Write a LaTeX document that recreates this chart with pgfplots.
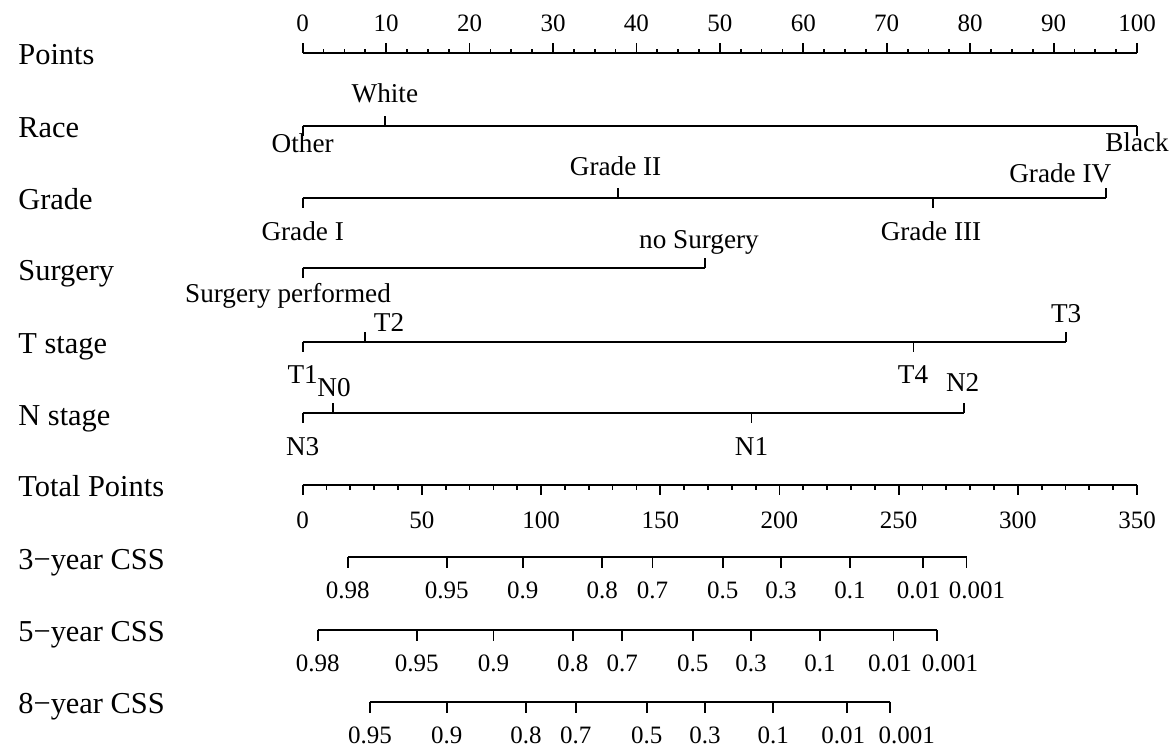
\documentclass[border=0pt]{standalone}
\usepackage{fontspec}
\setmainfont{Liberation Serif}
\usepackage{pgfplots}
\usepackage{pgfplotstable}
\pgfplotsset{compat=1.18}

\newcommand{\rowfont}{\fontsize{15.2}{17}\selectfont}
\newcommand{\catfont}{\fontsize{13.6}{15}\selectfont}
\newcommand{\tickfont}{\fontsize{12.5}{14}\selectfont}

% ---------- Points scale (0-100) ----------
\pgfplotstableread{
x dy
0 -10
2.5 -4
5 -4
7.5 -4
10 -10
12.5 -4
15 -4
17.5 -4
20 -10
22.5 -4
25 -4
27.5 -4
30 -10
32.5 -4
35 -4
37.5 -4
40 -10
42.5 -4
45 -4
47.5 -4
50 -10
52.5 -4
55 -4
57.5 -4
60 -10
62.5 -4
65 -4
67.5 -4
70 -10
72.5 -4
75 -4
77.5 -4
80 -10
82.5 -4
85 -4
87.5 -4
90 -10
92.5 -4
95 -4
97.5 -4
100 -10
}\ptsticks
\pgfplotstableread{
x label
0 0
10 10
20 20
30 30
40 40
50 50
60 60
70 70
80 80
90 90
100 100
}\ptslabels

% ---------- predictors (points) ----------
\pgfplotstableread{
x dy lx ly label
0 10 0 153 Other
9.9 -10 9.85 103 White
100 10 100 152 Black
}\race
\pgfplotstableread{
x dy lx ly label
0 10 0 240.7 {Grade I}
37.8 -10 37.5 176 {Grade II}
75.5 10 75.3 240.7 {Grade III}
96.3 -10 90.8 183 {Grade IV}
}\grade
\pgfplotstableread{
x dy lx ly label
0 10 -1.76 303 {Surgery performed}
48.2 -10 47.5 249 {no Surgery}
}\surgery
\pgfplotstableread{
x dy lx ly label
0 10 0 384 T1
7.47 -10 10.35 331.7 T2
73.2 10 73.15 384 T4
91.5 -10 91.5 322.7 T3
}\tstage
\pgfplotstableread{
x dy lx ly label
0 10 0 456 N3
3.67 -10 3.75 396.7 N0
53.8 10 53.8 456 N1
79.3 -10 79.1 391.7 N2
}\nstage

% ---------- Total points (0-350) ----------
\pgfplotstableread{
tp dy
0 10
10 5
20 5
30 5
40 5
50 10
60 5
70 5
80 5
90 5
100 10
110 5
120 5
130 5
140 5
150 10
160 5
170 5
180 5
190 5
200 10
210 5
220 5
230 5
240 5
250 10
260 5
270 5
280 5
290 5
300 10
310 5
320 5
330 5
340 5
350 10
}\totticks
\pgfplotstableread{
tp label
0 0
50 50
100 100
150 150
200 200
250 250
300 300
350 350
}\totlabels

% ---------- survival scales (in total points) ----------
\pgfplotstableread{
tp lx label
18.9 18.9 0.98
60.4 60.4 0.95
92.3 92.3 0.9
125.7 125.7 0.8
146.7 146.7 0.7
176.2 176.2 0.5
200.6 200.6 0.3
229.6 229.6 0.1
260.3 258.4 0.01
278.5 282.9 0.001
}\cssthree
\pgfplotstableread{
tp lx label
6.3 6.3 0.98
47.8 47.8 0.95
80.0 80.0 0.9
113.3 113.3 0.8
134.1 134.1 0.7
163.6 163.6 0.5
188.1 188.1 0.3
217.0 217.0 0.1
247.8 246.4 0.01
266.0 271.5 0.001
}\cssfive
\pgfplotstableread{
tp lx label
28.2 28.2 0.95
60.4 60.4 0.9
93.7 93.7 0.8
114.5 114.5 0.7
144.3 144.3 0.5
168.8 168.8 0.3
197.4 197.4 0.1
228.2 226.8 0.01
246.4 253.4 0.001
}\csseight

\pgfplotsset{
  nline/.style={black, line width=0.9pt, mark=none},
  ntick/.style={black, line width=0.9pt, mark=none, quiver={u=0, v=\thisrow{dy}}},
  ntickc/.style={black, line width=0.9pt, mark=none, quiver={u=0, v=11}},
  nlab/.style={draw=none, mark=none, nodes near coords, point meta=explicit symbolic,
    every node near coord/.append style={anchor=base, inner sep=0pt, font=#1}},
}

\begin{document}
\begin{tikzpicture}
\begin{axis}[
  scale only axis, width=587pt, height=374pt,
  xmin=-36.28, xmax=104.43, ymin=0, ymax=748, y dir=reverse,
  hide axis, clip=false,
]
\addplot[draw=none] coordinates {(-36.28,0) (104.43,748)};

% Points
\addplot[nline] table[x=x, y expr=53] {\ptsticks};
\addplot[ntick] table[x=x, y expr=53] {\ptsticks};
\addplot[nlab=\tickfont] table[x=x, y expr=31.7, meta=label] {\ptslabels};

% Race
\addplot[nline] table[x=x, y expr=126] {\race};
\addplot[ntick] table[x=x, y expr=126] {\race};
\addplot[nlab=\catfont] table[x=lx, y=ly, meta=label] {\race};

% Grade
\addplot[nline] table[x=x, y expr=197.7] {\grade};
\addplot[ntick] table[x=x, y expr=197.7] {\grade};
\addplot[nlab=\catfont] table[x=lx, y=ly, meta=label] {\grade};

% Surgery
\addplot[nline] table[x=x, y expr=268.3] {\surgery};
\addplot[ntick] table[x=x, y expr=268.3] {\surgery};
\addplot[nlab=\catfont] table[x=lx, y=ly, meta=label] {\surgery};

% T stage
\addplot[nline] table[x=x, y expr=341.7] {\tstage};
\addplot[ntick] table[x=x, y expr=341.7] {\tstage};
\addplot[nlab=\catfont] table[x=lx, y=ly, meta=label] {\tstage};

% N stage
\addplot[nline] table[x=x, y expr=413.3] {\nstage};
\addplot[ntick] table[x=x, y expr=413.3] {\nstage};
\addplot[nlab=\catfont] table[x=lx, y=ly, meta=label] {\nstage};

% Total Points
\addplot[nline] table[x expr=\thisrow{tp}/3.5, y expr=485] {\totticks};
\addplot[ntick] table[x expr=\thisrow{tp}/3.5, y expr=485] {\totticks};
\addplot[nlab=\tickfont] table[x expr=\thisrow{tp}/3.5, y expr=528.3, meta=label] {\totlabels};

% 3-year CSS
\addplot[nline] table[x expr=\thisrow{tp}/3.5, y expr=557.3] {\cssthree};
\addplot[ntickc] table[x expr=\thisrow{tp}/3.5, y expr=557.3] {\cssthree};
\addplot[nlab=\tickfont] table[x expr=\thisrow{lx}/3.5, y expr=599, meta=label] {\cssthree};

% 5-year CSS
\addplot[nline] table[x expr=\thisrow{tp}/3.5, y expr=630] {\cssfive};
\addplot[ntickc] table[x expr=\thisrow{tp}/3.5, y expr=630] {\cssfive};
\addplot[nlab=\tickfont] table[x expr=\thisrow{lx}/3.5, y expr=671.7, meta=label] {\cssfive};

% 8-year CSS
\addplot[nline] table[x expr=\thisrow{tp}/3.5, y expr=701.7] {\csseight};
\addplot[ntickc] table[x expr=\thisrow{tp}/3.5, y expr=701.7] {\csseight};
\addplot[nlab=\tickfont] table[x expr=\thisrow{lx}/3.5, y expr=743.4, meta=label] {\csseight};

% row labels
\begin{scope}[every node/.style={anchor=base west, inner sep=0pt, font=\rowfont}]
\node at (axis cs:-34.12,65) {Points};
\node at (axis cs:-34.12,138) {Race};
\node at (axis cs:-34.12,209.7) {Grade};
\node at (axis cs:-34.12,280.3) {Surgery};
\node at (axis cs:-34.12,353.7) {T stage};
\node at (axis cs:-34.12,425.3) {N stage};
\node at (axis cs:-34.12,497) {Total Points};
\node at (axis cs:-34.12,569.3) {3−year CSS};
\node at (axis cs:-34.12,642) {5−year CSS};
\node at (axis cs:-34.12,713.7) {8−year CSS};
\end{scope}
\end{axis}
\end{tikzpicture}
\end{document}
